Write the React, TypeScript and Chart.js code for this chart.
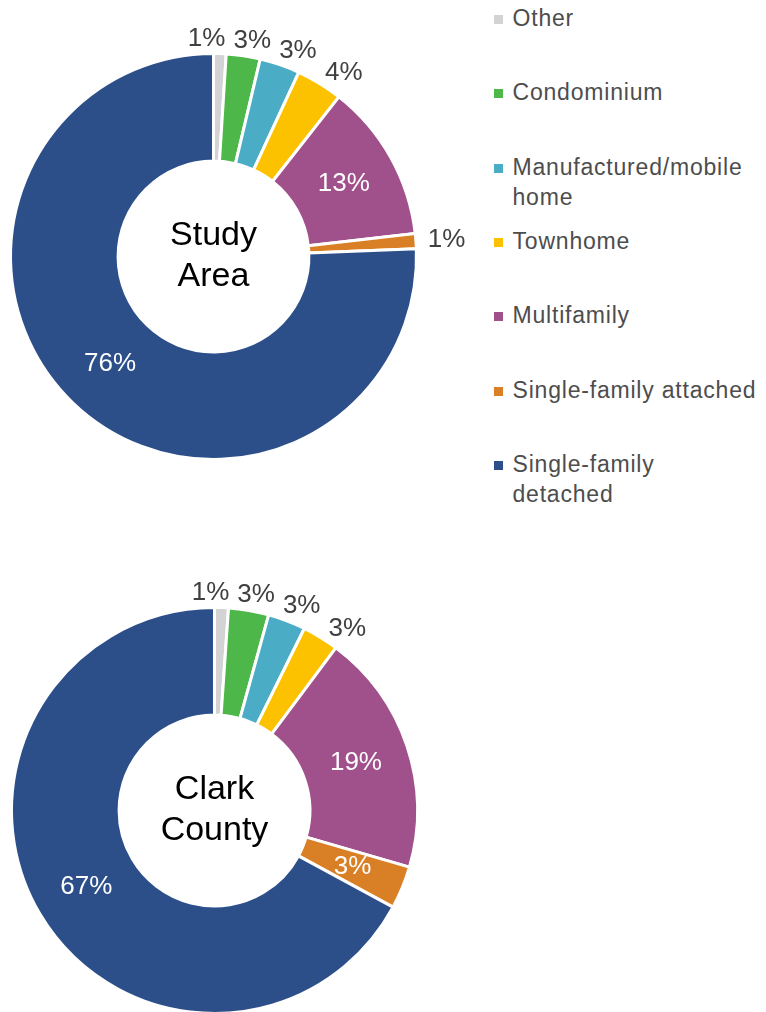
import React, { useEffect, useRef } from "react";
import { Chart, registerables } from "chart.js";

Chart.register(...registerables);

// ---- Data ----
const categories = [
  "Other",
  "Condominium",
  "Manufactured/mobile home",
  "Townhome",
  "Multifamily",
  "Single-family attached",
  "Single-family detached",
];
const studyAreaValues = [1.0, 2.7, 3.2, 3.7, 12.6, 1.2, 75.6];
const clarkCountyValues = [1.1, 3.2, 3.0, 2.9, 19.3, 3.4, 67.1];
const studyAreaTitle = ["Study", "Area"];
const clarkCountyTitle = ["Clark", "County"];

// ---- Styles ----
const sliceColors = ["#D3D3D3", "#4DB74A", "#4BACC6", "#FCC200", "#A0508A", "#D98026", "#2C4F8A"];
const FONT = '"Liberation Sans", Arial, sans-serif';

const donutLabelsPlugin = {
  id: "donutLabels",
  afterDatasetsDraw(chart: any, _args: any, opts: any) {
    const ctx = chart.ctx as CanvasRenderingContext2D;
    const meta = chart.getDatasetMeta(0);
    const values: number[] = chart.data.datasets[0].data;
    const arcs: any[] = meta.data;
    if (!arcs.length) return;
    const cx = arcs[0].x;
    const cy = arcs[0].y;
    const outerR = arcs[0].outerRadius;
    const innerR = arcs[0].innerRadius;
    const outside: number[] = opts.outside || [];
    const fmt = (v: number) => Math.round(v) + "%";

    ctx.save();
    ctx.textAlign = "center";
    ctx.textBaseline = "middle";
    ctx.font = `26px ${FONT}`;

    // inside labels
    arcs.forEach((arc, i) => {
      if (outside.includes(i)) return;
      const a = (arc.startAngle + arc.endAngle) / 2;
      const r = (outerR + innerR) / 2;
      ctx.fillStyle = "#FFFFFF";
      ctx.fillText(fmt(values[i]), cx + r * Math.cos(a), cy + r * Math.sin(a));
    });

    // outside labels with simple overlap relaxation
    const h = 22;
    const pad = 8;
    const items = outside
      .map((i) => {
        const arc = arcs[i];
        const text = fmt(values[i]);
        return { i, text, w: ctx.measureText(text).width, a: (arc.startAngle + arc.endAngle) / 2 };
      })
      .sort((p, q) => p.a - q.a);
    const pos = (it: any) => {
      const c = Math.cos(it.a);
      const s = Math.sin(it.a);
      const gap = 5 + 7 * Math.abs(c);
      const rho = outerR + gap + Math.sqrt(Math.pow((it.w / 2) * c, 2) + Math.pow((h / 2) * s, 2));
      return { x: cx + rho * c, y: cy + rho * s };
    };
    for (let iter = 0; iter < 1000; iter++) {
      let moved = false;
      for (let k = 0; k < items.length - 1; k++) {
        const p1 = pos(items[k]);
        const p2 = pos(items[k + 1]);
        const overlapX = Math.abs(p1.x - p2.x) < (items[k].w + items[k + 1].w) / 2 + pad;
        const overlapY = Math.abs(p1.y - p2.y) < h + pad;
        if (overlapX && overlapY) {
          items[k].a -= 0.0008;
          items[k + 1].a += 0.0012;
          moved = true;
        }
      }
      if (!moved) break;
    }
    ctx.fillStyle = "#404040";
    items.forEach((it) => {
      const p = pos(it);
      ctx.fillText(it.text, p.x, p.y + 1);
    });

    // centre title
    const title: string[] = opts.title || [];
    ctx.fillStyle = "#000000";
    ctx.font = `34px ${FONT}`;
    const lh = 41;
    title.forEach((line, k) => {
      ctx.fillText(line, cx, cy + (k - (title.length - 1) / 2) * lh);
    });
    ctx.restore();
  },
};

type DonutProps = {
  values: number[];
  title: string[];
  outside: number[];
  left: number;
  top: number;
  padding: { left: number; right: number; top: number; bottom: number };
};

function Donut({ values, title, outside, left, top, padding }: DonutProps) {
  const ref = useRef<HTMLCanvasElement | null>(null);
  useEffect(() => {
    if (!ref.current) return;
    const chart = new Chart(ref.current, {
      type: "doughnut",
      data: {
        labels: categories,
        datasets: [
          {
            data: values,
            backgroundColor: sliceColors,
            borderColor: "#FFFFFF",
            borderWidth: 3,
            hoverOffset: 0,
          },
        ],
      },
      options: {
        responsive: false,
        maintainAspectRatio: false,
        animation: false,
        events: [],
        cutout: "47%",
        layout: { padding },
        plugins: {
          legend: { display: false },
          tooltip: { enabled: false },
          // @ts-ignore
          donutLabels: { outside, title },
        },
      },
      plugins: [donutLabelsPlugin as any],
    } as any);
    return () => chart.destroy();
  }, []);
  return (
    <canvas
      ref={ref}
      width={480}
      height={480}
      style={{ position: "absolute", left, top, width: 480, height: 480 }}
    />
  );
}

function Legend() {
  return (
    <div style={{ position: "absolute", left: 493.5, top: 0, width: 272.5, height: 520 }}>
      {categories.map((c, i) => (
        <div key={c} style={{ position: "absolute", left: 0, top: i * 74.33, width: 272 }}>
          <div
            style={{
              position: "absolute",
              left: 0,
              top: 15,
              width: 9,
              height: 9,
              background: sliceColors[i],
            }}
          />
          <div
            style={{
              position: "absolute",
              left: 19,
              top: 3,
              width: 246,
              fontFamily: FONT,
              fontSize: 23,
              lineHeight: "30px",
              letterSpacing: "0.8px",
              color: "#4D4D4D",
              whiteSpace: "normal",
            }}
          >
            {c}
          </div>
        </div>
      ))}
    </div>
  );
}

export default function App() {
  return (
    <div
      style={{
        position: "fixed",
        left: 0,
        top: 0,
        width: 766,
        height: 1012,
        overflow: "hidden",
        background: "#FFFFFF",
      }}
    >
      <Donut
        values={studyAreaValues}
        title={studyAreaTitle}
        outside={[0, 1, 2, 3, 5]}
        left={0}
        top={0}
        padding={{ left: 9, right: 62, top: 52, bottom: 19 }}
      />
      <Donut
        values={clarkCountyValues}
        title={clarkCountyTitle}
        outside={[0, 1, 2, 3]}
        left={0}
        top={540}
        padding={{ left: 10, right: 61, top: 66, bottom: 5 }}
      />
      <Legend />
    </div>
  );
}
